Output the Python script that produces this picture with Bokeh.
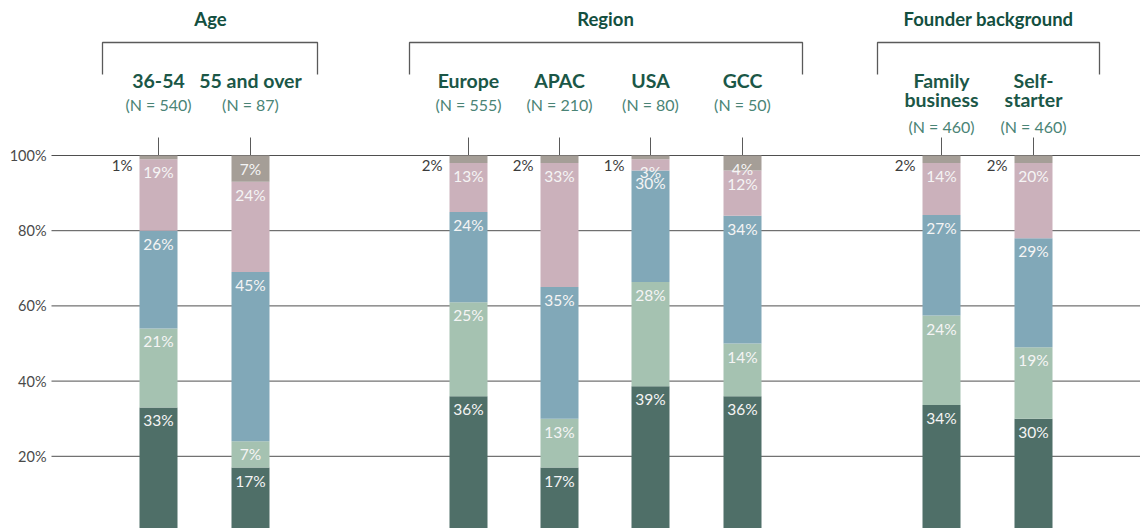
from bokeh.plotting import figure
from bokeh.models import Range1d, ColumnDataSource
from bokeh.core.properties import value
from bokeh.embed import file_html
from bokeh.resources import INLINE

# ---------------- data ----------------
categories = ["36-54", "55 and over", "Europe", "APAC", "USA", "GCC", "Family business", "Self-starter"]
cat_lines = [["36-54"], ["55 and over"], ["Europe"], ["APAC"], ["USA"], ["GCC"], ["Family", "business"], ["Self-", "starter"]]
n_values = [540, 87, 555, 210, 80, 50, 460, 460]
groups = ["Age", "Region", "Founder background"]
group_members = [[0, 1], [2, 3, 4, 5], [6, 7]]

seg_dark = [33, 17, 36, 17, 39, 36, 34, 30]
seg_light = [21, 7, 25, 13, 28, 14, 24, 19]
seg_blue = [26, 45, 24, 35, 30, 34, 27, 29]
seg_pink = [19, 24, 13, 33, 3, 12, 14, 20]
seg_gray = [1, 7, 2, 2, 1, 4, 2, 2]
y_ticks = [20, 40, 60, 80, 100]

# ---------------- style / layout ----------------
series = [seg_dark, seg_light, seg_blue, seg_pink, seg_gray]
colors = ["#4f6f68", "#a5c2b1", "#81a8b8", "#cbb1bb", "#a59e97"]
FONT = "Lato"
W, H = 1140, 528
PX = 3.76          # pixels per percentage point
Y100 = 155         # screen y of 100%

def ys(Y):
    return 100 - (Y - Y100) / PX

bar_x = [158, 250, 468, 559, 650, 742, 941, 1033]
bar_w = 38
brackets = [(102, 317), (409, 802), (877, 1099)]
title_x = [210, 605, 988]

p = figure(width=W, height=H, output_backend="svg", toolbar_location=None,
           x_range=Range1d(0, W), y_range=Range1d(ys(H), ys(0)),
           min_border=0)
p.axis.visible = False
p.grid.visible = False
p.outline_line_color = None
p.background_fill_color = "white"
p.border_fill_color = "white"

# gridlines
p.segment(x0=[51] * len(y_ticks), x1=[1140] * len(y_ticks), y0=y_ticks, y1=y_ticks,
          line_color="#4f4f4f", line_width=1)
p.text(x=[46] * len(y_ticks), y=y_ticks, text=[f"{t}%" for t in y_ticks],
       text_align="right", text_baseline="middle", text_font=value(FONT),
       text_font_size="14.5px", text_color="#4a4a4a")

# tick marks above bars
p.segment(x0=bar_x, x1=bar_x, y0=[100] * len(bar_x), y1=[ys(137)] * len(bar_x),
          line_color="#5a5a5a", line_width=1)

# stacked bars (normalised to 100)
totals = [sum(s[i] for s in series) for i in range(len(categories))]
bottoms = [0.0] * len(categories)
in_x, in_y, in_t = [], [], []
out_x, out_y, out_t = [], [], []
for s, c in zip(series, colors):
    tops = [b + v * 100.0 / t for b, v, t in zip(bottoms, s, totals)]
    src = ColumnDataSource(dict(x=bar_x, bottom=bottoms, top=tops))
    p.vbar(x="x", bottom="bottom", top="top", width=bar_w, source=src,
           fill_color=c, line_color=None)
    for i, v in enumerate(s):
        if v <= 2:
            out_x.append(bar_x[i] - bar_w / 2 - 7)
            out_y.append(tops[i])
            out_t.append(f"{v}%")
        else:
            in_x.append(bar_x[i])
            in_y.append(tops[i])
            in_t.append(f"{v}%")
    bottoms = tops

p.text(x=in_x, y=in_y, text=in_t, y_offset=4, text_align="center", text_baseline="top",
       text_font=value(FONT), text_font_size="15.5px", text_color="#f5f5f5")
p.text(x=out_x, y=out_y, text=out_t, y_offset=9, text_align="right", text_baseline="middle",
       text_font=value(FONT), text_font_size="15px", text_color="#3c3c3c")

# group brackets and titles
for (x0, x1), tx, g in zip(brackets, title_x, groups):
    p.line(x=[x0, x0, x1, x1], y=[ys(74), ys(42), ys(42), ys(74)],
           line_color="#5a5a5a", line_width=1.3)
    p.text(x=[tx], y=[ys(18)], text=[g], text_align="center", text_baseline="middle",
           text_font=value(FONT), text_font_style="bold", text_font_size="18.5px",
           text_color="#134f40")

# category labels and N
for i, lines in enumerate(cat_lines):
    for j, ln in enumerate(lines):
        p.text(x=[bar_x[i]], y=[ys(80 + 19 * j)], text=[ln], text_align="center",
               text_baseline="middle", text_font=value(FONT), text_font_style="bold",
               text_font_size="19.5px", text_color="#1b5747")
    ny = 104 if len(lines) == 1 else 126
    p.text(x=[bar_x[i]], y=[ys(ny)], text=[f"(N = {n_values[i]})"], text_align="center",
           text_baseline="middle", text_font=value(FONT), text_font_size="16px",
           text_color="#4a8476")

open("out.html", "w").write(file_html(p, INLINE))
